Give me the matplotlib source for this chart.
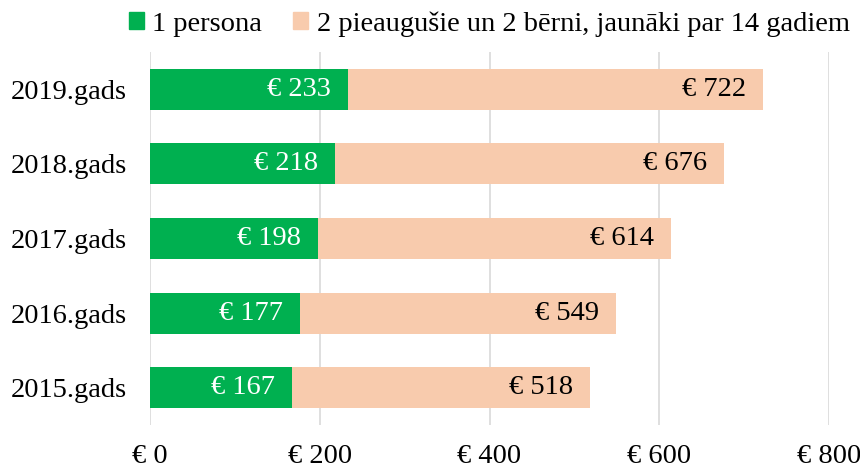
import matplotlib
matplotlib.use("Agg")
import matplotlib.pyplot as plt
from matplotlib.patches import Patch

categories = ["2015.gads", "2016.gads", "2017.gads", "2018.gads", "2019.gads"]
one_person = [167, 177, 198, 218, 233]
family = [518, 549, 614, 676, 722]
series_names = ["1 persona", "2 pieaugušie un 2 bērni, jaunāki par 14 gadiem"]
xticks = [0, 200, 400, 600, 800]

plt.rcParams['font.family'] = ['Liberation Serif', 'DejaVu Serif']
GREEN = '#00B050'
PEACH = '#F8CBAD'
FS = 20.5

fig = plt.figure(figsize=(8.6, 4.72), dpi=100)
ax = fig.add_axes([0.1744, 0.0996, 0.7896, 0.7904])
y = range(len(categories))
ax.barh(y, family, height=0.55, color=PEACH, zorder=2)
ax.barh(y, one_person, height=0.55, color=GREEN, zorder=3)

for i, (a, b) in enumerate(zip(one_person, family)):
    ax.text(a - 20, i, f"€ {a}", ha='right', va='center', color='white', fontsize=FS, zorder=4)
    ax.text(b - 20, i, f"€ {b}", ha='right', va='center', color='black', fontsize=FS, zorder=4)

ax.set_xlim(0, 800)
ax.set_ylim(-0.5, len(categories) - 0.5)
ax.set_xticks(xticks)
ax.set_xticklabels([f"€ {t}" for t in xticks], fontsize=FS)
ax.set_yticks(list(y))
ax.set_yticklabels(categories, fontsize=FS)
ax.tick_params(axis='both', length=0)
ax.tick_params(axis='x', pad=14)
ax.tick_params(axis='y', pad=16.5)
ax.xaxis.grid(True, color='#D9D9D9', linewidth=1.2, zorder=0)
ax.set_axisbelow(True)
for s in ax.spines.values():
    s.set_visible(False)

handles = [Patch(color=GREEN), Patch(color=PEACH)]
fig.legend(handles, series_names, loc='center right', bbox_to_anchor=(0.995, 0.949),
           ncol=2, frameon=False, fontsize=FS, handlelength=0.53, handleheight=0.53,
           handletextpad=0.3, columnspacing=1.1, borderpad=0.1, borderaxespad=0.1)

fig.savefig("out.png", dpi=100)
